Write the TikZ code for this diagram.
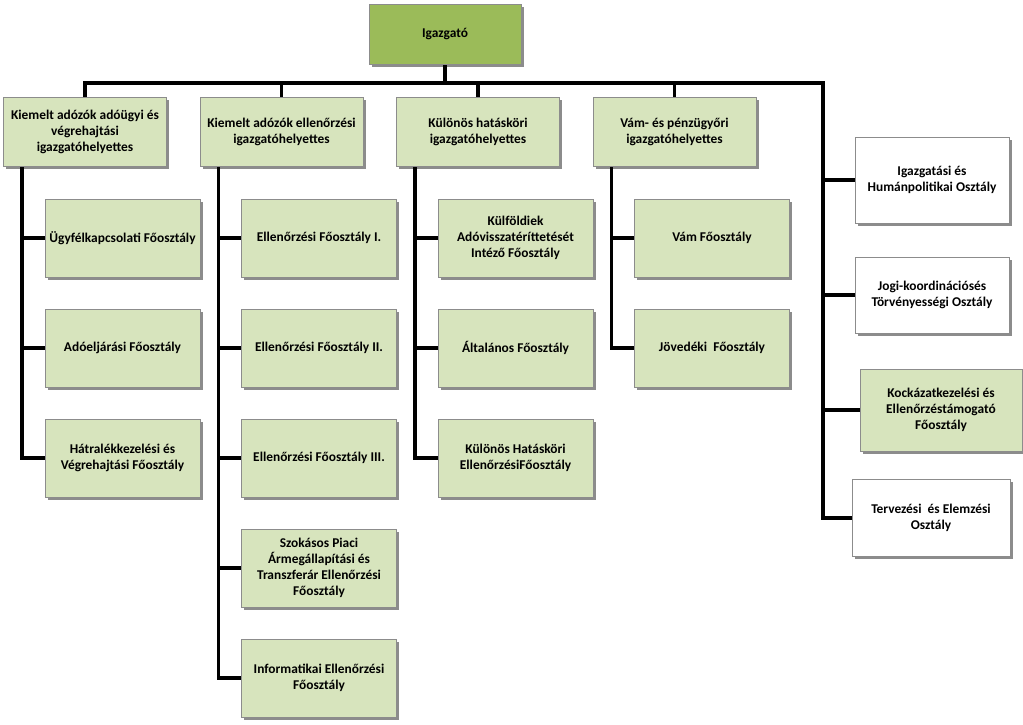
\documentclass[tikz,border=0pt]{standalone}
\usepackage{fontspec}
\setmainfont{Carlito}
\usetikzlibrary{shadows,backgrounds}

\definecolor{headgreen}{RGB}{155,187,89}
\definecolor{unitgreen}{RGB}{215,228,189}
\definecolor{unitline}{RGB}{140,140,140}

\tikzset{
  unitbox/.style={draw=unitline, rectangle, fill=unitgreen, align=center,
    inner sep=1pt, font=\bfseries\fontsize{13.4}{16}\selectfont,
    drop shadow={shadow xshift=2.5pt, shadow yshift=-2.5pt, opacity=0.45, fill=black}},
  headbox/.style={unitbox, fill=headgreen, minimum width=152pt, minimum height=60pt},
  deputybox/.style={unitbox, minimum width=163pt, minimum height=69pt},
  deptbox/.style={unitbox, minimum width=155pt, minimum height=78pt},
  staffbox/.style={unitbox, fill=white},
  orgline/.style={line width=3.5pt, draw=black}
}

\begin{document}
\begin{tikzpicture}[x=1pt, y=-1pt]
\useasboundingbox (0,0) rectangle (1023,724);

\def \busy {83}
\def \colgap {196.5}
\def \rowgap {110}

% top
\node[headbox] (dir) at (445,34) {Igazgató};

% deputies
\foreach \lbl [count=\i] in {
  {Kiemelt adózók adóügyi és\\végrehajtási\\igazgatóhelyettes},
  {Kiemelt adózók ellenőrzési\\igazgatóhelyettes},
  {Különös hatásköri\\igazgatóhelyettes},
  {Vám- és pénzügyőri\\igazgatóhelyettes}}
{
  \node[deputybox] (dep\i) at ({85+\colgap*(\i-1)},132) {\lbl};
  \coordinate (sp\i) at ({22+\colgap*(\i-1)},166);
}

% departments
\foreach \lbl [count=\j] in {
  {Ügyfélkapcsolati Főosztály},
  {Adóeljárási Főosztály},
  {Hátralékkezelési és\\Végrehajtási Főosztály}}
  \node[deptbox] (sub1-\j) at (122.5,{238+\rowgap*(\j-1)}) {\lbl};

\foreach \lbl [count=\j] in {
  {Ellenőrzési Főosztály I.},
  {Ellenőrzési Főosztály II.},
  {Ellenőrzési Főosztály III.},
  {Szokásos Piaci\\Ármegállapítási és\\Transzferár Ellenőrzési\\Főosztály},
  {Informatikai Ellenőrzési\\Főosztály}}
  \node[deptbox] (sub2-\j) at ({122.5+\colgap},{238+\rowgap*(\j-1)}) {\lbl};

\foreach \lbl [count=\j] in {
  {Külföldiek\\Adóvisszatéríttetését\\Intéző Főosztály},
  {Általános Főosztály},
  {Különös Hatásköri\\EllenőrzésiFőosztály}}
  \node[deptbox] (sub3-\j) at ({122.5+2*\colgap},{238+\rowgap*(\j-1)}) {\lbl};

\foreach \lbl [count=\j] in {
  {Vám Főosztály},
  {Jövedéki\ \ Főosztály}}
  \node[deptbox] (sub4-\j) at ({122.5+3*\colgap},{238+\rowgap*(\j-1)}) {\lbl};

% staff units on the right
\node[staffbox, minimum width=154pt, minimum height=86pt] (staff1) at (932,180)
  {Igazgatási és\\Humánpolitikai Osztály};
\node[staffbox, minimum width=154pt, minimum height=76pt] (staff2) at (932,295)
  {Jogi-koordinációsés\\Törvényességi Osztály};
\node[staffbox, fill=unitgreen, minimum width=162pt, minimum height=82pt] (staff3) at (941,410)
  {Kockázatkezelési és\\Ellenőrzéstámogató\\Főosztály};
\node[staffbox, minimum width=158pt, minimum height=77pt] (staff4) at (931,518)
  {Tervezési\ \ és Elemzési\\Osztály};

\coordinate (busL) at (85,\busy);
\coordinate (busR) at (823,\busy);

\begin{scope}[on background layer]
  \draw[orgline] (dir.south) -- (dir.south |- busL);
  \draw[orgline, line cap=rect] (busL) -- (busR);
  \foreach \i in {1,...,4}
    \draw[orgline] (dep\i.north) -- (dep\i.north |- busL);
  \foreach \i/\n in {1/3, 2/5, 3/3, 4/2}
  {
    \draw[orgline, line cap=rect] (sp\i) -- (sp\i |- sub\i-\n.west);
    \foreach \j in {1,...,\n}
      \draw[orgline] (sub\i-\j.west) -- (sub\i-\j.west -| sp\i);
  }
  \draw[orgline, line cap=rect] (busR) -- (busR |- staff4.west);
  \foreach \k in {1,...,4}
    \draw[orgline] (staff\k.west) -- (staff\k.west -| busR);
\end{scope}

\end{tikzpicture}
\end{document}
